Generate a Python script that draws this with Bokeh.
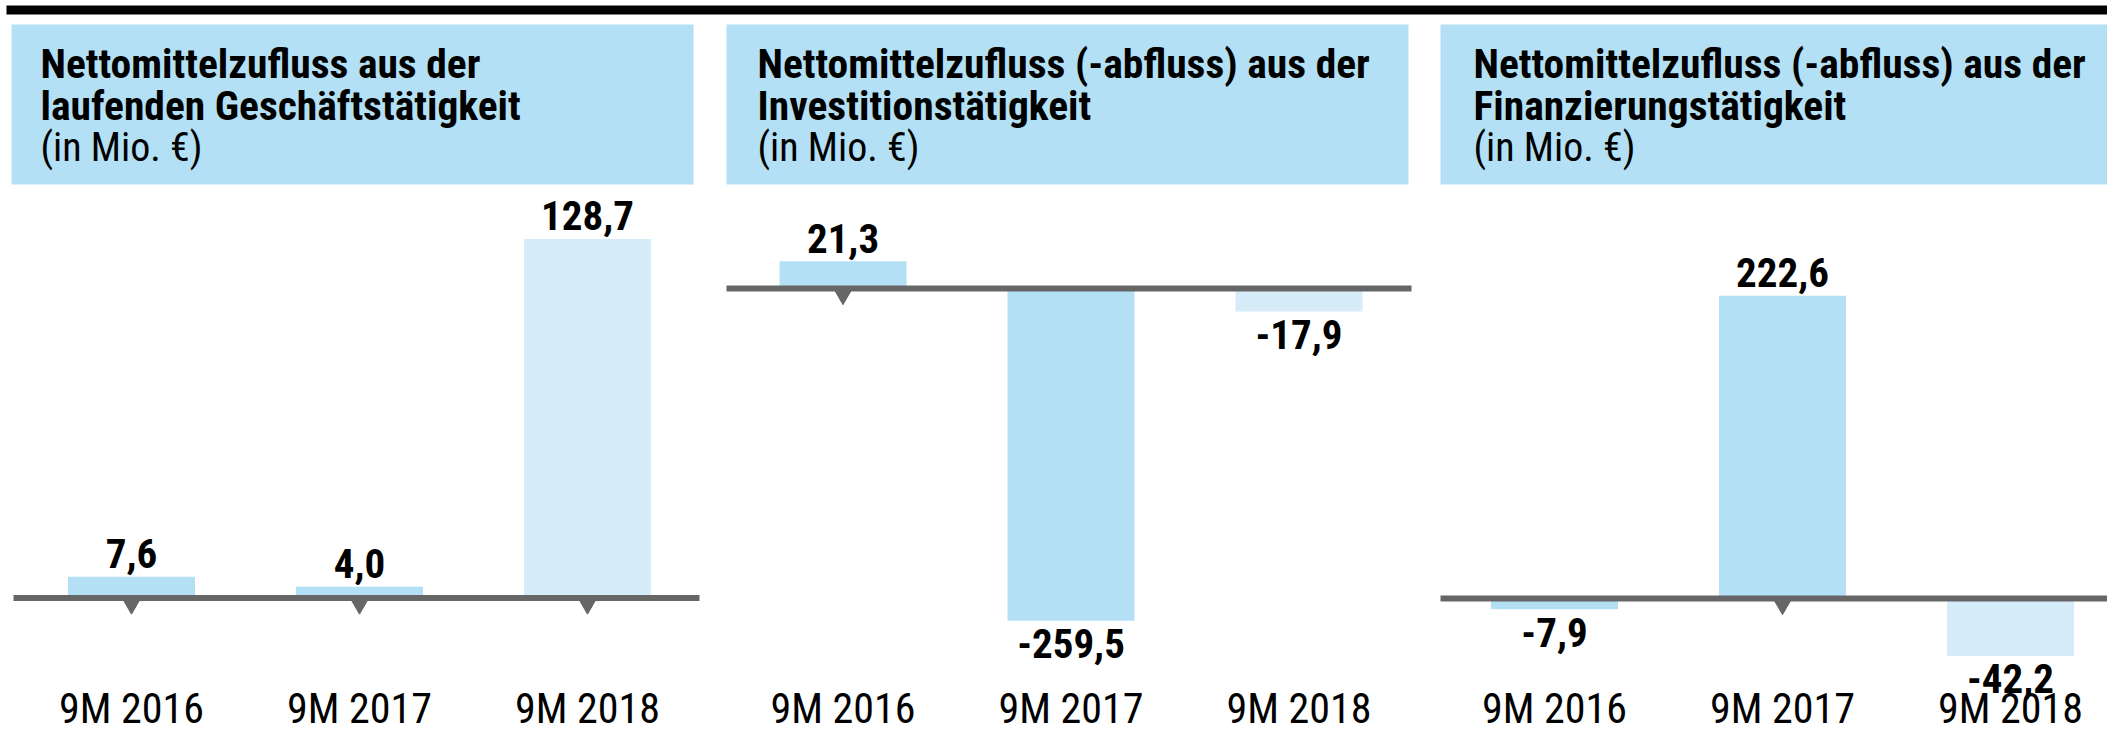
from bokeh.plotting import figure
from bokeh.models import FactorRange, Range1d, BoxAnnotation, Label, ColumnDataSource
from bokeh.core.properties import value
from bokeh.transform import dodge
from bokeh.embed import file_html
from bokeh.resources import INLINE

# ---------------- data ----------------
categories = ["9M 2016", "9M 2017", "9M 2018"]
panel_keys = ["laufend", "invest", "finanz"]
title_laufend = ["Nettomittelzufluss aus der", "laufenden Geschäftstätigkeit"]
title_invest = ["Nettomittelzufluss (-abfluss) aus der", "Investitionstätigkeit"]
title_finanz = ["Nettomittelzufluss (-abfluss) aus der", "Finanzierungstätigkeit"]
unit_text = "(in Mio. €)"
cf_laufend = [7.6, 4.0, 128.7]
cf_invest = [21.3, -259.5, -17.9]
cf_finanz = [-7.9, 222.6, -42.2]

# ---------------- style / layout ----------------
W, H = 2107, 733
FONT = "Roboto Condensed, Liberation Sans"
HEADER_BG = "#b3e0f4"
BAR_COLORS = ["#b3e0f4", "#b3e0f4", "#d6edf9"]
GREY = "#666666"
CU = "canvas"
SHIFT = 0.0746          # horizontal shift of the bar grid (category units)
BAR_W = 0.557

panel_layout = {
    "laufend": dict(zero=597.5, ppu=2.79, header=(11, 693), line=(13, 699), text_x=40,
                    title=title_laufend, vals=cf_laufend),
    "invest": dict(zero=288.0, ppu=1.28, header=(726, 1408), line=(726, 1411), text_x=757,
                   title=title_invest, vals=cf_invest),
    "finanz": dict(zero=598.0, ppu=1.36, header=(1440, W), line=(1440, W), text_x=1473,
                   title=title_finanz, vals=cf_finanz),
}
TITLE_BASELINES = [63, 105, 147]
TITLE_SIZES = ["41.5px", "41.5px", "40px"]
VALUE_SIZE = "41px"
CAT_SIZE = "42px"
POS_OFF, NEG_OFF, CAT_OFF = -23, 23, -25

factors = [(k, c) for k in panel_keys for c in categories]
x_range = FactorRange(*factors, group_padding=0.1206, factor_padding=0.0, range_padding=0.0)


def yr(cfg):
    return Range1d(-(H - cfg["zero"]) / cfg["ppu"], cfg["zero"] / cfg["ppu"])


y_ranges = {k: yr(panel_layout[k]) for k in panel_keys}

p = figure(width=W, height=H, x_range=x_range, y_range=y_ranges["laufend"],
           output_backend="svg", toolbar_location=None,
           x_axis_location=None, y_axis_location=None,
           min_border_left=0, min_border_right=0,
           min_border_top=0, min_border_bottom=0)
p.extra_y_ranges = {"invest": y_ranges["invest"], "finanz": y_ranges["finanz"]}
p.grid.visible = False
p.outline_line_color = None
p.background_fill_color = "white"
p.border_fill_color = "white"


def rn(k):
    return "default" if k == "laufend" else k


# top black rule
p.add_layout(BoxAnnotation(left=6, right=W, top=5, bottom=14,
                           left_units=CU, right_units=CU, top_units=CU, bottom_units=CU,
                           fill_color="black", fill_alpha=1, line_color=None))

for k in panel_keys:
    cfg = panel_layout[k]
    # header box + title
    p.add_layout(BoxAnnotation(left=cfg["header"][0], right=cfg["header"][1], top=24, bottom=184,
                               left_units=CU, right_units=CU, top_units=CU, bottom_units=CU,
                               fill_color=HEADER_BG, fill_alpha=1, line_color=None, level="underlay"))
    for i, (txt, style) in enumerate(zip(cfg["title"] + [unit_text], ["bold", "bold", "normal"])):
        p.add_layout(Label(x=cfg["text_x"], y=TITLE_BASELINES[i], x_units=CU, y_units=CU,
                           text=txt, text_font=FONT, text_font_size=TITLE_SIZES[i],
                           text_font_style=style, text_color="black",
                           text_baseline="alphabetic", text_align="left"))

    vals = cfg["vals"]
    xs = [(k, c) for c in categories]
    lab = [f"{v:.1f}".replace(".", ",") for v in vals]

    # tick triangles under positive bars
    tri = ColumnDataSource(dict(x=[x for x, v in zip(xs, vals) if v >= 0],
                                y=[0 for v in vals if v >= 0]))
    p.scatter(x=dodge("x", SHIFT, range=x_range), y="y", source=tri,
              marker="inverted_triangle", size=28, color=GREY, y_range_name=rn(k))

    # bars
    src = ColumnDataSource(dict(x=xs, top=vals, color=BAR_COLORS))
    p.vbar(x=dodge("x", SHIFT, range=x_range), top="top", bottom=0, width=BAR_W,
           color="color", line_color=None, source=src, y_range_name=rn(k))

    # zero line
    p.add_layout(BoxAnnotation(left=cfg["line"][0], right=cfg["line"][1], top=0, bottom=0,
                               left_units=CU, right_units=CU,
                               fill_alpha=0, line_color=GREY, line_alpha=1, line_width=6,
                               y_range_name=rn(k)))

    # value labels
    for sign, off in ((1, POS_OFF), (-1, NEG_OFF)):
        idx = [i for i, v in enumerate(vals) if (v >= 0) == (sign > 0)]
        if idx:
            s = ColumnDataSource(dict(x=[xs[i] for i in idx], y=[vals[i] for i in idx],
                                      t=[lab[i] for i in idx]))
            p.text(x=dodge("x", SHIFT, range=x_range), y="y", text="t", source=s,
                   text_font=value(FONT), text_font_size=VALUE_SIZE, text_font_style="bold",
                   text_align="center", text_baseline="alphabetic", y_offset=off,
                   text_color="black", y_range_name=rn(k))

    # category labels at the bottom
    cs = ColumnDataSource(dict(x=xs, y=[y_ranges["laufend"].start] * 3, t=categories))
    p.text(x=dodge("x", SHIFT, range=x_range), y="y", text="t", source=cs,
           text_font=value(FONT), text_font_size=CAT_SIZE, text_align="center",
           text_baseline="alphabetic", y_offset=CAT_OFF, text_color="black")

open("out.html", "w").write(file_html(p, INLINE))
